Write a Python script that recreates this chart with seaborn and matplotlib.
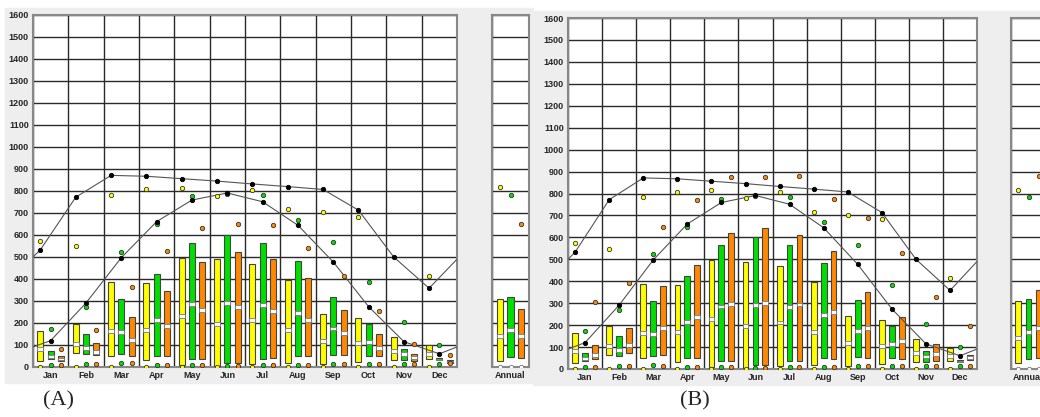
import numpy as np
import matplotlib
matplotlib.use("Agg")
import matplotlib.pyplot as plt
from matplotlib.patches import Rectangle
import seaborn as sns

months = ["Jan", "Feb", "Mar", "Apr", "May", "Jun",
          "Jul", "Aug", "Sep", "Oct", "Nov", "Dec"]

# yellow series (same in A and B)
yel_hi = [162, 196, 386, 384, 496, 490, 468, 396, 242, 225, 137, 98]
yel_lo = [29, 63, 49, 32, 8, 6, 14, 16, 13, 23, 30, 36]
yel_med = [83, 104, 165, 170, 230, 197, 212, 169, 117, 107, 74, 58]
yel_top = [573, 548, 782, 809, 815, 779, 806, 716, 703, 683, np.nan, 415]
yel_bot = [0, 0, 0, 0, 0, 0, 0, 0, 0, 0, 0, 0]

# green series (same in A and B)
grn_hi = [73, 149, 308, 422, 565, 601, 565, 484, 316, 197, 84, 43]
grn_lo = [38, 60, 60, 50, 37, 17, 38, 48, 55, 48, 30, 30]
grn_med = [49, 86, 159, 215, 285, 292, 284, 246, 175, 114, 57, 36]
grn_top = [171, 271, 522, 649, 776, 788, 782, 668, 566, 385, 206, 99]
grn_bot = [9, 13, 17, 9, 9, 3, 9, 9, 14, 13, 14, 13]

# orange series, panel A
orgA_hi = [48, 109, 229, 347, 479, 524, 489, 406, 261, 150, 61, 32]
orgA_lo = [27, 53, 50, 52, 36, 18, 42, 48, 53, 50, 27, 20]
orgA_med = [38, 68, 123, 188, 258, 271, 256, 215, 155, 86, 42, 26]
orgA_top = [82, 167, 362, 527, 630, 650, 645, 543, 414, 253, 106, 56]
orgA_bot = [9, 14, 18, 9, 9, 3, 9, 9, 15, 14, 14, 17]

# orange series, panel B
orgB_hi = [109, 186, 377, 476, 620, 641, 609, 536, 350, 238, 114, 64]
orgB_lo = [45, 71, 64, 48, 36, 17, 36, 45, 52, 45, 36, 39]
orgB_med = [62, 108, 185, 236, 298, 301, 294, 259, 186, 129, 67, 52]
orgB_top = [306, 394, 649, 771, 877, 873, 880, 773, 689, 529, 326, 198]
orgB_bot = [9, 12, 15, 9, 9, 3, 9, 9, 12, 12, 12, 12]

# black curves (upper at yellow slot, lower at centre), plus edge values
upper_line = [533, 772, 871, 867, 856, 845, 832, 820, 807, 713, 500, 358]
upper_start, upper_end = 500, 490
lower_line = [120, 291, 497, 661, 759, 791, 751, 644, 477, 274, 115, 60]
lower_start, lower_end = 91, 91

# annual boxes: yellow, green, orange
ann_hi_A = [311, 320, 264]
ann_lo_A = [26, 44, 41]
ann_med_A = [141, 167, 142]
ann_top_A = [817, 782, 650]
ann_hi_B = [311, 320, 362]
ann_lo_B = [26, 44, 50]
ann_med_B = [141, 167, 185]
ann_top_B = [817, 782, 882]
ann_bot = [2, 2, 2]

YEL, GRN, ORG = "#ffff00", "#00e000", "#ff8800"
OFF = [-0.29, 0.0, 0.29]
BW = 0.17

sns.set_style("white")
plt.rcParams["font.family"] = ["Liberation Sans", "DejaVu Sans"]

W, H = 1040, 417
fig = plt.figure(figsize=(W / 100, H / 100), dpi=100)

fig.patches.append(Rectangle((5 / W, 1 - 383 / H), 528 / W, 375 / H,
                             transform=fig.transFigure, color="#eeeeee", zorder=-1))
fig.patches.append(Rectangle((533 / W, 1 - 385 / H), 507 / W, 374 / H,
                             transform=fig.transFigure, color="#eeeeee", zorder=-1))


def px_axes(x0, y0, x1, y1):
    return fig.add_axes([x0 / W, 1 - y1 / H, (x1 - x0) / W, (y1 - y0) / H])


def style(ax, labels, show_y):
    n = len(labels)
    ax.set_xlim(-0.5, n - 0.5)
    ax.set_ylim(0, 1600)
    ax.set_facecolor("white")
    ax.set_xticks(range(n))
    ax.set_xticklabels(labels, fontsize=6.5, fontweight="bold")
    ax.set_xticks(np.arange(-0.5, n), minor=True)
    ax.set_yticks(range(0, 1700, 100))
    if show_y:
        ax.set_yticklabels([str(v) for v in range(0, 1700, 100)],
                           fontsize=6.5, fontweight="bold")
    else:
        ax.set_yticklabels([])
    ax.tick_params(axis="both", which="both", length=0, pad=3)
    ax.grid(True, which="minor", axis="x", color="#2a2a2a", lw=1.0, zorder=0)
    ax.grid(True, which="major", axis="y", color="#2a2a2a", lw=1.0, zorder=0)
    ax.grid(False, which="major", axis="x")
    for s in ax.spines.values():
        s.set_color("#888888")
        s.set_linewidth(1.5)
    ax.set_xlabel("")
    ax.set_ylabel("")


def boxes(ax, x, lo, hi, med, color):
    x = np.asarray(x, float)
    lo, hi, med = (np.asarray(a, float) for a in (lo, hi, med))
    ax.bar(x, hi - lo, bottom=lo, width=BW, color=color,
           edgecolor="#444444", linewidth=0.8, zorder=3)
    h = np.minimum(9, (hi - lo) * 0.2)
    ax.bar(x, 2 * h, bottom=med - h, width=BW, color="white",
           edgecolor="#777777", linewidth=0.6, zorder=3.5)


def dots(ax, x, y, color, edge="#333333"):
    sns.scatterplot(x=x, y=y, ax=ax, color=color, edgecolor=edge,
                    s=10, linewidth=0.6, zorder=6, legend=False)


def panel(ax, org_lo, org_hi, org_med, org_top, org_bot):
    xs = np.arange(12)
    series = [(yel_lo, yel_hi, yel_med, yel_top, yel_bot, YEL),
              (grn_lo, grn_hi, grn_med, grn_top, grn_bot, GRN),
              (org_lo, org_hi, org_med, org_top, org_bot, ORG)]
    for off, (lo, hi, med, top, bot, c) in zip(OFF, series):
        boxes(ax, xs + off, lo, hi, med, c)
        dots(ax, xs + off, top, c)
        dots(ax, xs + off, bot, c)
    ux = np.concatenate([[-0.5], xs + OFF[0], [11.5]])
    uy = [upper_start] + upper_line + [upper_end]
    lx = np.concatenate([[-0.5], xs, [11.5]])
    ly = [lower_start] + lower_line + [lower_end]
    sns.lineplot(x=ux, y=uy, ax=ax, color="#555555", lw=0.8, sort=False,
                 estimator=None, zorder=4)
    sns.lineplot(x=lx, y=ly, ax=ax, color="#555555", lw=0.8, sort=False,
                 estimator=None, zorder=4)
    dots(ax, xs + OFF[0], upper_line, "black", "black")
    dots(ax, xs, lower_line, "black", "black")
    style(ax, months, True)


def annual(ax, lo, hi, med, top):
    for i, c in enumerate([YEL, GRN, ORG]):
        boxes(ax, [OFF[i]], [lo[i]], [hi[i]], [med[i]], c)
        dots(ax, [OFF[i]], [top[i]], c)
        dots(ax, [OFF[i]], [ann_bot[i]], "white", "#777777")
    style(ax, ["Annual"], False)


axA = px_axes(33, 15, 457, 367)
panel(axA, orgA_lo, orgA_hi, orgA_med, orgA_top, orgA_bot)
axA2 = px_axes(492, 15, 529, 367)
annual(axA2, ann_lo_A, ann_hi_A, ann_med_A, ann_top_A)

axB = px_axes(568, 18, 977, 369)
panel(axB, orgB_lo, orgB_hi, orgB_med, orgB_top, orgB_bot)
# the reference crops this annual panel at the right edge of the image
axB2 = px_axes(1011, 18, 1046, 369)
annual(axB2, ann_lo_B, ann_hi_B, ann_med_B, ann_top_B)

fig.text(59 / W, 1 - 401 / H, "(A)", family="Liberation Serif", fontsize=16,
         ha="center", va="center")
fig.text(695 / W, 1 - 401 / H, "(B)", family="Liberation Serif", fontsize=16,
         ha="center", va="center")

fig.savefig("out.png", dpi=100)
